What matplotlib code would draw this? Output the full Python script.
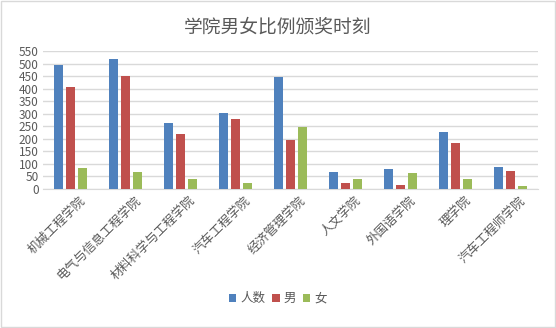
import numpy as np
import matplotlib.pyplot as plt
from matplotlib.transforms import ScaledTranslation

plt.rcParams['font.family'] = ['Noto Sans CJK SC', 'DejaVu Sans']

colleges = ['机械工程学院', '电气与信息工程学院', '材料科学与工程学院', '汽车工程学院',
            '经济管理学院', '人文学院', '外国语学院', '理学院', '汽车工程师学院']
total = [495, 519, 264, 304, 447, 68, 80, 228, 88]
male = [408, 449, 220, 280, 197, 24, 16, 184, 72]
female = [85, 68, 40, 24, 248, 40, 64, 40, 12]

series = [('人数', total, '#4f81bd'), ('男', male, '#c0504d'), ('女', female, '#9bbb59')]
grey = '#595959'

fig = plt.figure(figsize=(5.56, 3.28), dpi=100)
ax = fig.add_axes([0.078, 0.424, 0.89, 0.42])

x = np.arange(len(colleges))
w = 0.164
step = 0.218
for i, (name, vals, c) in enumerate(series):
    ax.bar(x + (i - 1) * step, vals, w, color=c, label=name, zorder=3)

ax.set_xlim(-0.5, len(colleges) - 0.5)
ax.set_ylim(0, 550)
ax.set_yticks(range(0, 551, 50))
ax.yaxis.grid(True, color='#d9d9d9', linewidth=1, zorder=0)
for s in ['top', 'right', 'left']:
    ax.spines[s].set_visible(False)
ax.spines['bottom'].set_color('#d9d9d9')
ax.tick_params(length=0, colors=grey, labelsize=8.5)
ax.set_xticks(x)
ax.set_xticklabels(colleges, rotation=45, ha='right', rotation_mode='anchor', fontsize=9)
shift = ScaledTranslation(8 / 100, 0, fig.dpi_scale_trans)
for lbl in ax.get_xticklabels():
    lbl.set_transform(lbl.get_transform() + shift)

fig.suptitle('学院男女比例颁奖时刻', y=0.95, fontsize=13.5, color=grey)
fig.legend(loc='lower center', bbox_to_anchor=(0.5, 0.035), ncol=3, frameon=False,
           fontsize=9, handlelength=0.6, handleheight=0.6, handletextpad=0.35,
           columnspacing=0.5, labelcolor=grey)

fig.patches.append(plt.Rectangle((0.001, 0.002), 0.997, 0.995, transform=fig.transFigure,
                                 fill=False, edgecolor='#d9d9d9', linewidth=1))
fig.savefig('out.png', dpi=100)
